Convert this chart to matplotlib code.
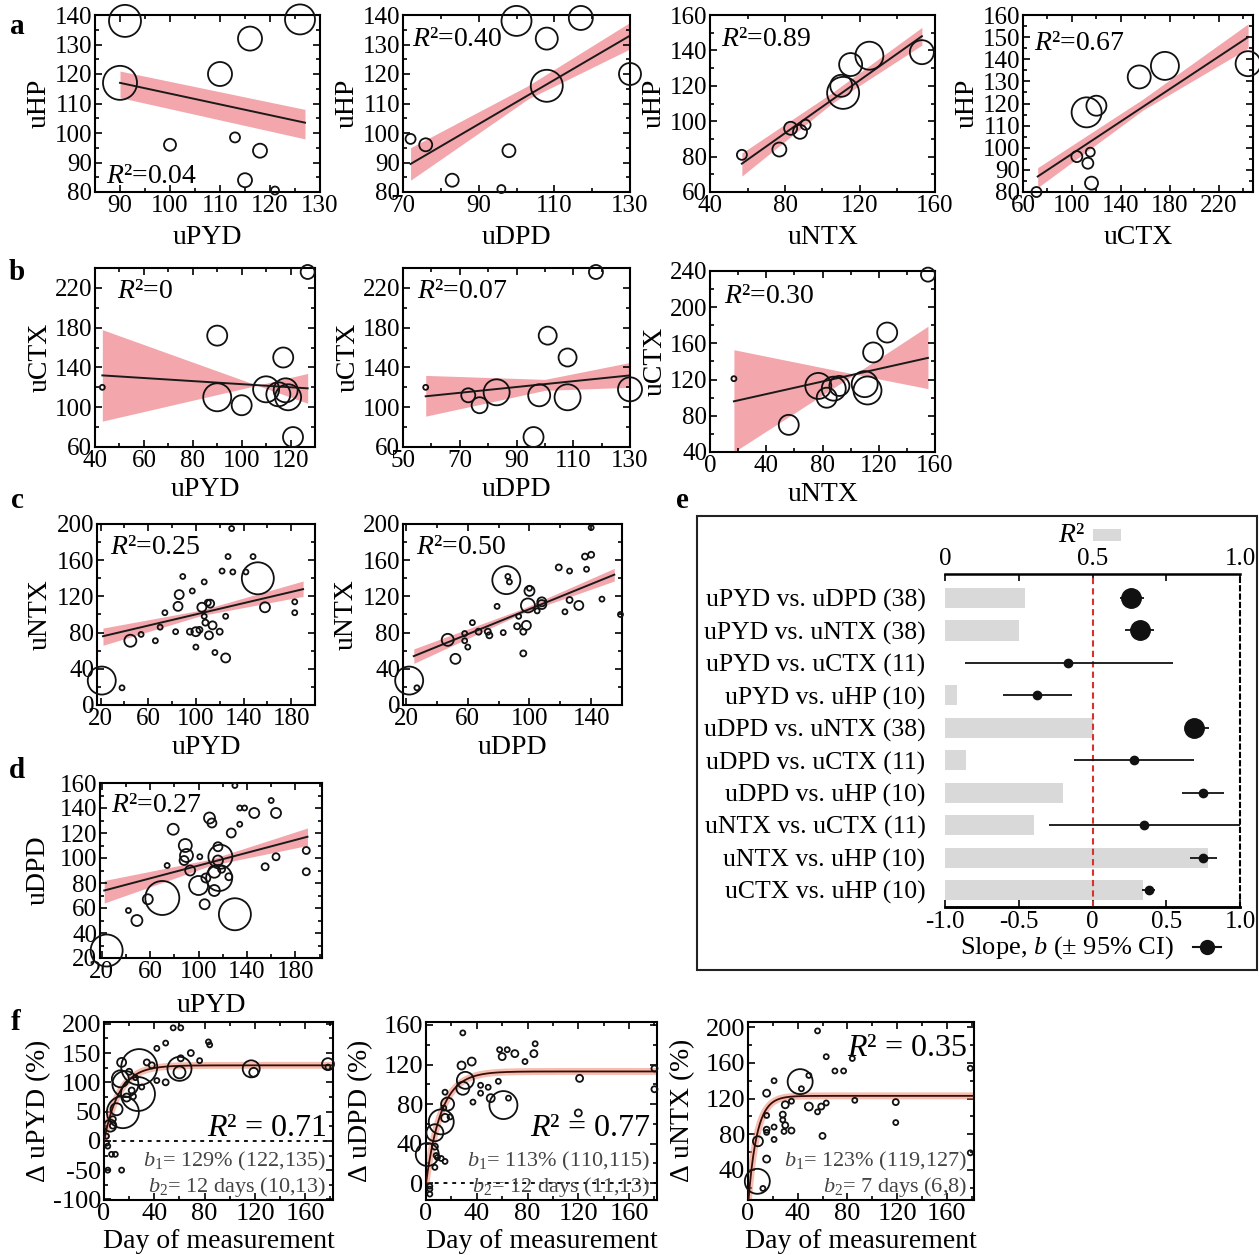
import numpy as np
import matplotlib
matplotlib.use('Agg')
import matplotlib.pyplot as plt
from matplotlib.ticker import AutoMinorLocator
from matplotlib.patches import Rectangle
from matplotlib.lines import Line2D

plt.rcParams['font.family'] = ['Liberation Serif', 'DejaVu Serif']
plt.rcParams['mathtext.fontset'] = 'custom'
plt.rcParams['mathtext.rm'] = 'Liberation Serif'
plt.rcParams['mathtext.it'] = 'Liberation Serif:italic'
plt.rcParams['mathtext.bf'] = 'Liberation Serif:bold'
plt.rcParams['axes.unicode_minus'] = False

# ---------------- data ----------------
# panel a : x vs uHP
a1_x = [91, 126, 90, 116, 110, 100, 113, 118, 115, 121]
a1_y = [138, 138.5, 117, 132, 120, 96, 98.5, 94, 84, 80.5]
a1_w = [16, 15, 17, 12, 12, 6, 5, 7, 7, 4]
a1_fit_x = [90, 127]; a1_fit_y = [117, 103.5]
a1_band_x = [90, 127]; a1_band_lo = [112, 98]; a1_band_hi = [121, 108]

a2_x = [100, 117, 108, 108, 130, 72, 76, 98, 83, 96]
a2_y = [138, 139, 132, 116, 120, 98, 96, 94, 84, 81]
a2_w = [15, 12, 11, 16, 11, 5, 6.5, 6.5, 6.5, 4]
a2_fit_x = [72, 130]; a2_fit_y = [89.5, 133]
a2_band_x = [72, 103, 130]; a2_band_lo = [84, 111.5, 128.5]; a2_band_hi = [95, 116, 137.5]

a3_x = [57, 77, 83, 88, 91, 110, 111, 115, 125, 153]
a3_y = [81, 84, 96, 94, 98, 120, 116, 132, 137, 139]
a3_w = [5, 7, 6.5, 7, 5, 11, 16, 11.5, 14, 12]
a3_fit_x = [57, 153]; a3_fit_y = [76, 148]
a3_band_x = [57, 105, 153]; a3_band_lo = [69, 110, 143]; a3_band_hi = [82, 116, 153]

a4_x = [71, 104, 115, 113, 116, 112, 120, 155, 176, 244]
a4_y = [80, 96, 98, 93, 84, 116, 119, 132, 137, 138]
a4_w = [5, 5.5, 4.5, 5.5, 6.5, 15, 10, 11.5, 14, 12.5]
a4_fit_x = [72, 244]; a4_fit_y = [87, 150]
a4_band_x = [72, 158, 244]; a4_band_lo = [82, 117, 145]; a4_band_hi = [91, 122, 156]

# panel b : x vs uCTX
b1_x = [43, 90, 90, 100, 110, 115, 117, 118, 119, 121, 127]
b1_y = [120, 172, 110, 102, 118, 113, 150, 117, 110, 70, 236]
b1_w = [2.5, 10, 14, 10, 13, 12, 10, 12, 13, 10, 7]
b1_fit_x = [43, 127]; b1_fit_y = [132, 119]
b1_band_x = [43, 106.4, 127]; b1_band_lo = [86, 122, 104]; b1_band_hi = [178, 122, 134]

b2_x = [58, 73, 77, 83, 96, 98, 101, 108, 108, 118, 130]
b2_y = [120, 112, 102, 115, 70, 112, 172, 150, 110, 236, 118]
b2_w = [2.5, 7, 8, 13, 10, 11, 9, 9, 13, 7, 12]
b2_fit_x = [58, 130]; b2_fit_y = [111, 132]
b2_band_x = [58, 100, 130]; b2_band_lo = [91, 117, 120]; b2_band_hi = [132, 128, 145]

b3_x = [17, 56, 77, 83, 88, 92, 110, 112, 116, 126, 155]
b3_y = [121, 70, 113, 100, 110, 113, 115, 108, 150, 172, 236]
b3_w = [2.5, 10, 13, 10, 12, 10, 13, 14, 10, 10, 7]
b3_fit_x = [17, 155]; b3_fit_y = [96, 144]
b3_band_x = [17, 103, 155]; b3_band_lo = [40, 126, 110]; b3_band_hi = [153, 126, 179]

# panel c : x vs uNTX
c1_x = [21, 38, 45, 54, 66, 70, 74, 83, 86, 85, 89, 95, 97, 100, 100, 107, 105, 107, 108,
        111, 112, 114, 116, 120, 122, 125, 125, 130, 127, 131, 142, 152, 148, 158, 183, 183, 110, 103]
c1_y = [27, 19, 71, 78, 71, 86, 102, 81, 122, 109, 142, 81, 126, 81, 64, 136, 108, 98, 91,
        77, 112, 88, 58, 81, 148, 98, 52, 195, 164, 147, 147, 140, 164, 108, 114, 102, 113, 83]
c1_w = [14, 2.5, 6, 2.5, 2.5, 2.5, 2.5, 2.5, 4.5, 4.5, 2.5, 3, 2.5, 4.5, 2.5, 2.5, 4.5, 2.5, 3,
        4, 4, 4, 2.5, 3, 2.5, 2.5, 4.5, 2.5, 2.5, 2.5, 2.5, 16, 2.5, 5, 2.5, 2.5, 3, 3]
c1_fit_x = [22, 190]; c1_fit_y = [76, 128]
c1_band_x = [22, 105, 190]; c1_band_lo = [66, 99, 120]; c1_band_hi = [85, 105, 137]

c2_x = [22, 27, 47, 52, 60, 58, 58, 63, 67, 73, 74, 79, 86, 87, 85, 93, 92, 96, 96, 98, 100,
        99, 105, 108, 108, 119, 123, 126, 126, 132, 136, 137, 140, 140, 147, 159, 83, 100]
c2_y = [27, 19, 72, 51, 64, 79, 71, 91, 81, 81, 77, 109, 142, 136, 138, 98, 87, 81, 57, 88, 126,
        110, 104, 111, 114, 152, 103, 148, 116, 110, 164, 150, 166, 196, 117, 100, 80, 129]
c2_w = [14, 2.5, 6, 5, 2.5, 2.5, 2.5, 2.5, 3, 3, 3, 2.5, 2.5, 2.5, 14, 2.5, 3, 3, 3, 4.5, 5,
        7, 2.5, 4.5, 4.5, 3, 2.5, 2.5, 3, 4.5, 3, 2.5, 3, 2.5, 2.5, 2.5, 2.5, 2.5]
c2_fit_x = [25, 155]; c2_fit_y = [54, 144]
c2_band_x = [25, 95, 155]; c2_band_lo = [46, 101, 137]; c2_band_hi = [62, 106, 151]

# panel d : uPYD vs uDPD
d_x = [24, 42, 49, 58, 70, 74, 79, 89, 90, 88, 93, 101, 100, 105, 106, 109, 111, 113, 113,
       116, 116, 118, 117, 119, 125, 127, 130, 130, 134, 134, 138, 146, 155, 160, 164, 164, 189, 189]
d_y = [26, 58, 50, 67, 68, 94, 123, 110, 102, 98, 90, 101, 78, 63, 84, 132, 128, 89, 74,
       98, 109, 101, 84, 91, 85, 120, 158, 55, 127, 140, 140, 136, 93, 146, 101, 136, 106, 89]
d_w = [16, 2.5, 5.5, 5, 17, 2.5, 5.5, 6.5, 6.5, 4.5, 5, 2.5, 9.5, 5, 4.5, 5.5, 4.5, 6, 5.5,
       5, 4.5, 12, 13, 3.5, 3.5, 4.5, 2.5, 16, 2.5, 2.5, 2.5, 5, 3.5, 2.5, 3.5, 5, 3.5, 3.5]
d_fit_x = [22, 190]; d_fit_y = [74, 117]
d_band_x = [22, 110, 190]; d_band_lo = [64, 94, 110]; d_band_hi = [82, 99, 124]

# panel e : summary
e_labels = ['uPYD vs. uDPD (38)', 'uPYD vs. uNTX (38)', 'uPYD vs. uCTX (11)', 'uPYD vs. uHP (10)',
            'uDPD vs. uNTX (38)', 'uDPD vs. uCTX (11)', 'uDPD vs. uHP (10)', 'uNTX vs. uCTX (11)',
            'uNTX vs. uHP (10)', 'uCTX vs. uHP (10)']
e_n = [38, 38, 11, 10, 38, 11, 10, 11, 10, 10]
e_r2 = [0.27, 0.25, 0.0, 0.04, 0.50, 0.07, 0.40, 0.30, 0.89, 0.67]
e_slope = [0.26, 0.32, -0.165, -0.375, 0.69, 0.28, 0.75, 0.35, 0.75, 0.38]
e_lo = [0.185, 0.22, -0.864, -0.605, 0.637, -0.128, 0.605, -0.296, 0.66, 0.333]
e_hi = [0.346, 0.42, 0.543, -0.14, 0.79, 0.686, 0.894, 1.0, 0.844, 0.425]

# panel f : change over time
f1_x = [178, 178, 117, 119, 60, 60, 55, 61, 42, 49, 61, 69, 76, 83, 84, 28, 27, 14, 13, 17, 18,
        22, 23, 10, 15, 5, 7, 2, 3, 6, 9, 3, 14, 49, 42, 38, 34, 2, 7, 30, 20, 25]
f1_y = [131, 126, 123, 117, 123, 117, 193, 193, 158, 167, 141, 150, 137, 169, 164, 126, 80, 134,
        106, 97, 74, 86, 76, 54, 49, 26, 26, -4, -9, -23, -23, -50, -50, 100, 103, 129, 134, 8, 37,
        92, 118, 108]
f1_w = [6, 2.5, 8.5, 4.5, 12, 6, 2.5, 2.5, 2.5, 2.5, 3, 3, 2.5, 2.5, 2.5, 18, 17, 4.5, 8.5, 13,
        4, 3, 3, 6, 16, 6, 3, 2.5, 2.5, 2.5, 2.5, 2.5, 2.5, 3, 2.5, 3, 3, 2.5, 3, 2.5, 3, 2.5]

f2_x = [29, 58, 60, 64, 70, 78, 85, 86, 28, 36, 31, 29, 43, 43, 49, 51, 57, 61, 65, 121, 120,
        180, 180, 37, 15, 17, 15, 12, 19, 7, 7, 12, 8, 15, 1, 7, 3, 3, 3, 9, 14]
f2_y = [152, 135, 128, 135, 131, 123, 131, 141, 119, 123, 104, 96, 99, 91, 97, 86, 103, 79, 86,
        106, 71, 116, 95, 82, 92, 80, 66, 62, 67, 51, 37, 25, 28, 22, 29, 16, -3, -6, -11, 26, 76]
f2_w = [2.5, 2.5, 3.5, 2.5, 3.5, 2.5, 3.5, 2.5, 4, 4, 8.5, 6.5, 2.5, 2.5, 2.5, 4, 2.5, 14, 2.5,
        3.5, 3.5, 3, 3, 2.5, 2.5, 6.5, 4, 12.5, 2.5, 8.5, 3, 2.5, 2.5, 2.5, 11.5, 2.5, 2.5, 2.5,
        2.5, 2.5, 2.5]

f3_x = [7.5, 12, 8, 15, 15, 15, 15, 15, 21, 21, 21, 28, 28, 29, 30, 30, 35, 35, 42, 43, 49, 49,
        56, 56, 59, 60, 63, 63, 70, 77, 84, 86, 119, 119, 179, 179]
f3_y = [27, 19, 72, 52, 126, 101, 85, 82, 140, 88, 74, 102, 96, 83, 90, 113, 84, 117, 139, 131,
        146, 111, 196, 105, 111, 78, 167, 115, 151, 151, 165, 118, 116, 93, 154, 59]
f3_w = [12.5, 2.5, 5, 3.5, 3.5, 2.5, 3, 2.5, 2.5, 2.5, 2.5, 3, 2.5, 2.5, 3, 3.5, 3, 2.5, 12.5,
        2.5, 2.5, 4, 2.5, 2.5, 3, 3, 2.5, 2.5, 2.5, 2.5, 2.5, 2.5, 3, 2.5, 2.5, 2.5]

f_b1 = [129, 113, 123]
f_b2 = [12, 12, 7]
f_r2 = ['0.71', '0.77', '0.35']
f_b1_txt = ['129% (122,135)', '113% (110,115)', '123% (119,127)']
f_b2_txt = ['12 days (10,13)', '12 days (11,13)', '7 days (6,8)']

# ---------------- figure ----------------
W, H = 1259, 1255
fig = plt.figure(figsize=(W / 100, H / 100), dpi=100)
BAND = '#f3a7ac'
LW_SP = 1.5
TICK_FS = 18
LAB_FS = 20
R2 = r'$R$' + '\u00b2'


def add_ax(l, t, r, b):
    return fig.add_axes([l / W, 1 - b / H, (r - l) / W, (b - t) / H])


def area(r):
    return (2 * np.asarray(r, float) * 0.72) ** 2


def style(ax, xlim, ylim, xticks, yticks, fs=TICK_FS):
    ax.set_xlim(xlim)
    ax.set_ylim(ylim)
    ax.set_xticks(xticks)
    ax.set_yticks(yticks)
    ax.xaxis.set_minor_locator(AutoMinorLocator(2))
    ax.yaxis.set_minor_locator(AutoMinorLocator(2))
    ax.tick_params(which='both', direction='in', top=True, right=True, labelsize=fs,
                   width=1.2, pad=2)
    ax.tick_params(which='major', length=5)
    ax.tick_params(which='minor', length=3)
    for s in ax.spines.values():
        s.set_linewidth(LW_SP)


def labels(ax, box, xlabel, ylabel, xoff, yoff, fs=LAB_FS):
    l, t, r, b = box
    ax.set_xlabel(xlabel, fontsize=fs)
    ax.set_ylabel(ylabel, fontsize=fs)
    ax.xaxis.set_label_coords(0.5, -xoff / (b - t))
    ax.yaxis.set_label_coords(-yoff / (r - l), 0.5)
    ax.xaxis.label.set_va('center')
    ax.yaxis.label.set_va('center')


def scatter_panel(box, x, y, w, fx, fy, bx, blo, bhi, xlim, ylim, xticks, yticks,
                  xlabel, ylabel, r2, r2pos, xoff=45, yoff=56):
    ax = add_ax(*box)
    ax.fill_between(bx, blo, bhi, color=BAND, lw=0, zorder=1)
    ax.plot(fx, fy, color='#1a1a1a', lw=1.4, zorder=2)
    ax.scatter(x, y, s=area(w), facecolors='none', edgecolors='#111111', linewidths=1.3,
               zorder=3, clip_on=False)
    style(ax, xlim, ylim, xticks, yticks)
    labels(ax, box, xlabel, ylabel, xoff, yoff)
    ax.text(r2pos[0], r2pos[1], R2 + '=' + r2, transform=ax.transAxes, fontsize=20,
            ha='left', va='center')
    return ax


# row a
scatter_panel((95, 15, 320, 192), a1_x, a1_y, a1_w, a1_fit_x, a1_fit_y, a1_band_x, a1_band_lo,
              a1_band_hi, (85, 130), (80, 140), [90, 100, 110, 120, 130],
              [80, 90, 100, 110, 120, 130, 140], 'uPYD', 'uHP', '0.04', (0.05, 0.09))
scatter_panel((403, 15, 630, 192), a2_x, a2_y, a2_w, a2_fit_x, a2_fit_y, a2_band_x, a2_band_lo,
              a2_band_hi, (70, 130), (80, 140), [70, 90, 110, 130],
              [80, 90, 100, 110, 120, 130, 140], 'uDPD', 'uHP', '0.40', (0.04, 0.86))
scatter_panel((710, 15, 935, 192), a3_x, a3_y, a3_w, a3_fit_x, a3_fit_y, a3_band_x, a3_band_lo,
              a3_band_hi, (40, 160), (60, 160), [40, 80, 120, 160],
              [60, 80, 100, 120, 140, 160], 'uNTX', 'uHP', '0.89', (0.05, 0.86))
scatter_panel((1023, 15, 1253, 192), a4_x, a4_y, a4_w, a4_fit_x, a4_fit_y, a4_band_x,
              a4_band_lo, a4_band_hi, (60, 248), (80, 160), [60, 100, 140, 180, 220],
              [80, 90, 100, 110, 120, 130, 140, 150, 160], 'uCTX', 'uHP', '0.67', (0.05, 0.84))

# row b
scatter_panel((95, 268, 315, 447), b1_x, b1_y, b1_w, b1_fit_x, b1_fit_y, b1_band_x, b1_band_lo,
              b1_band_hi, (40, 130), (60, 240), [40, 60, 80, 100, 120],
              [60, 100, 140, 180, 220], 'uPYD', 'uCTX', '0', (0.1, 0.87), xoff=43, yoff=55)
scatter_panel((403, 268, 630, 447), b2_x, b2_y, b2_w, b2_fit_x, b2_fit_y, b2_band_x, b2_band_lo,
              b2_band_hi, (50, 130), (60, 240), [50, 70, 90, 110, 130],
              [60, 100, 140, 180, 220], 'uDPD', 'uCTX', '0.07', (0.06, 0.87), xoff=43, yoff=55)
scatter_panel((710, 271, 935, 452), b3_x, b3_y, b3_w, b3_fit_x, b3_fit_y, b3_band_x, b3_band_lo,
              b3_band_hi, (0, 160), (40, 240), [0, 40, 80, 120, 160],
              [40, 80, 120, 160, 200, 240], 'uNTX', 'uCTX', '0.30', (0.06, 0.86), xoff=43, yoff=55)

# row c
scatter_panel((97, 524, 315, 705), c1_x, c1_y, c1_w, c1_fit_x, c1_fit_y, c1_band_x, c1_band_lo,
              c1_band_hi, (17, 200), (0, 200), [20, 60, 100, 140, 180],
              [0, 40, 80, 120, 160, 200], 'uPYD', 'uNTX', '0.25', (0.06, 0.87), xoff=43, yoff=57)
scatter_panel((403, 524, 622, 705), c2_x, c2_y, c2_w, c2_fit_x, c2_fit_y, c2_band_x, c2_band_lo,
              c2_band_hi, (18, 160), (0, 200), [20, 60, 100, 140],
              [0, 40, 80, 120, 160, 200], 'uDPD', 'uNTX', '0.50', (0.06, 0.87), xoff=43, yoff=57)

# row d
scatter_panel((100, 783, 322, 958), d_x, d_y, d_w, d_fit_x, d_fit_y, d_band_x, d_band_lo,
              d_band_hi, (18.5, 202), (20, 160), [20, 60, 100, 140, 180],
              [20, 40, 60, 80, 100, 120, 140, 160], 'uPYD', 'uDPD', '0.27', (0.05, 0.87),
              xoff=47, yoff=62)

# panel e
frame = Rectangle((697 / W, 1 - 970 / H), (1257 - 697) / W, (970 - 516) / H,
                  transform=fig.transFigure, fill=False, lw=1.5, edgecolor='#222222')
fig.add_artist(frame)
e_box = (945, 574, 1240, 907)
axe = add_ax(*e_box)
rows = np.arange(len(e_labels))
axe.barh(rows, e_r2, height=0.62, left=0, color='#d9d9d9', zorder=1)
axe.set_xlim(0, 1)
axe.set_ylim(9.52, -0.74)
axe.set_yticks(rows)
axe.set_yticklabels(e_labels, fontsize=18.5)
axe.tick_params(axis='y', length=0, pad=14)
axe.spines['left'].set_visible(False)
axe.spines['right'].set_linestyle((0, (2, 2)))
axe.spines['right'].set_linewidth(1.5)
axe.spines['top'].set_linewidth(1.8)
axe.spines['bottom'].set_linewidth(1.8)

axs = axe.twiny()
axs.set_xlim(-1, 1)
axs.xaxis.tick_bottom()
axs.xaxis.set_label_position('bottom')
axs.set_xticks([-1, -0.5, 0, 0.5, 1])
axs.set_xticklabels(['-1.0', '-0.5', '0', '0.5', '1.0'])
axs.tick_params(axis='x', direction='in', labelsize=18, width=1.2, length=5, pad=3,
                top=False, labeltop=False, bottom=True, labelbottom=True)
axs.spines['left'].set_visible(False)
axs.spines['right'].set_visible(False)
axs.spines['top'].set_visible(False)
axs.spines['bottom'].set_linewidth(1.8)

# R^2 axis on top (re-applied after twin creation)
axe.xaxis.tick_top()
axe.set_xticks([0, 0.5, 1.0])
axe.set_xticklabels(['0', '0.5', '1.0'])
axe.set_xticks([0.25, 0.75], minor=True)
axe.tick_params(axis='x', which='both', direction='in', labelsize=18, width=1.2, pad=3,
                top=True, labeltop=True, bottom=False, labelbottom=False)
axe.tick_params(axis='x', which='major', length=5)
axe.tick_params(axis='x', which='minor', length=5)

axs.axvline(0, color='#d8322c', ls=(0, (3, 2)), lw=1.5, zorder=2)
for i in range(len(e_labels)):
    big = e_n[i] >= 30
    axs.errorbar([e_slope[i]], [rows[i]], xerr=[[e_slope[i] - e_lo[i]], [e_hi[i] - e_slope[i]]],
                 fmt='o', color='#111111', ms=14 if big else 6, lw=1.3, capsize=0, zorder=4,
                 clip_on=False)

fig.text(1071 / W, 1 - 536 / H, R2, fontsize=20, ha='center', va='center')
fig.add_artist(Rectangle((1093 / W, 1 - 541 / H), 28 / W, 12 / H, transform=fig.transFigure,
                         color='#d9d9d9', lw=0))
fig.text(1067 / W, 1 - 948 / H, r'Slope, $b$ ($\pm$ 95% CI)', fontsize=19, ha='center',
         va='center')
fig.add_artist(Line2D([1193 / W, 1221 / W], [1 - 947 / H, 1 - 947 / H], transform=fig.transFigure,
                      color='#111111', lw=1.5))
fig.add_artist(Line2D([1207 / W], [1 - 947 / H], transform=fig.transFigure, marker='o', ms=10,
                      color='#111111', lw=0))


# panel f
def decay_panel(box, x, y, w, b1, b2, r2, b1t, b2t, ylim, yticks, ylabel, r2pos, zero_line):
    ax = add_ax(*box)
    xx = np.linspace(0, 182, 400)
    yy = b1 * (1 - np.exp(-xx / b2))
    if zero_line:
        ax.axhline(0, color='#111111', ls=(0, (2, 2.5)), lw=1.4, zorder=1)
    ax.plot(xx, yy, color='#ee8a70', lw=5, alpha=0.55, zorder=2, solid_capstyle='butt')
    ax.plot(xx, yy, color='#3b0c06', lw=1.3, zorder=3)
    ax.scatter(x, y, s=area(w), facecolors='none', edgecolors='#111111', linewidths=1.3,
               zorder=4, clip_on=False)
    style(ax, (0, 182), ylim, [0, 40, 80, 120, 160], yticks, fs=19)
    labels(ax, box, 'Day of measurement', ylabel, 42, 66, fs=20)
    ax.text(0.97, r2pos, R2 + ' = ' + r2, transform=ax.transAxes, fontsize=23, ha='right',
            va='center')
    ax.text(0.97, 0.215, r'$b_1$= ' + b1t, transform=ax.transAxes, fontsize=16, ha='right',
            va='center', color='#444444')
    ax.text(0.97, 0.075, r'$b_2$= ' + b2t, transform=ax.transAxes, fontsize=16, ha='right',
            va='center', color='#444444')
    return ax


decay_panel((104, 1022, 333, 1200), f1_x, f1_y, f1_w, f_b1[0], f_b2[0], f_r2[0], f_b1_txt[0],
            f_b2_txt[0], (-101, 203), [-100, -50, 0, 50, 100, 150, 200], r'$\Delta$ uPYD (%)',
            0.40, True)
decay_panel((426, 1022, 657, 1200), f2_x, f2_y, f2_w, f_b1[1], f_b2[1], f_r2[1], f_b1_txt[1],
            f_b2_txt[1], (-17, 163), [0, 40, 80, 120, 160], r'$\Delta$ uDPD (%)', 0.40, True)
decay_panel((748, 1022, 974, 1200), f3_x, f3_y, f3_w, f_b1[2], f_b2[2], f_r2[2], f_b1_txt[2],
            f_b2_txt[2], (6, 206), [40, 80, 120, 160, 200], r'$\Delta$ uNTX (%)', 0.85, False)

# panel letters
for lab, (px, py) in {'a': (17, 27), 'b': (17, 273), 'c': (17, 500), 'd': (17, 771),
                      'e': (682, 500), 'f': (16, 1022)}.items():
    fig.text(px / W, 1 - py / H, lab, fontsize=21, fontweight='bold', ha='center', va='center')

fig.savefig('out.png', dpi=100)
